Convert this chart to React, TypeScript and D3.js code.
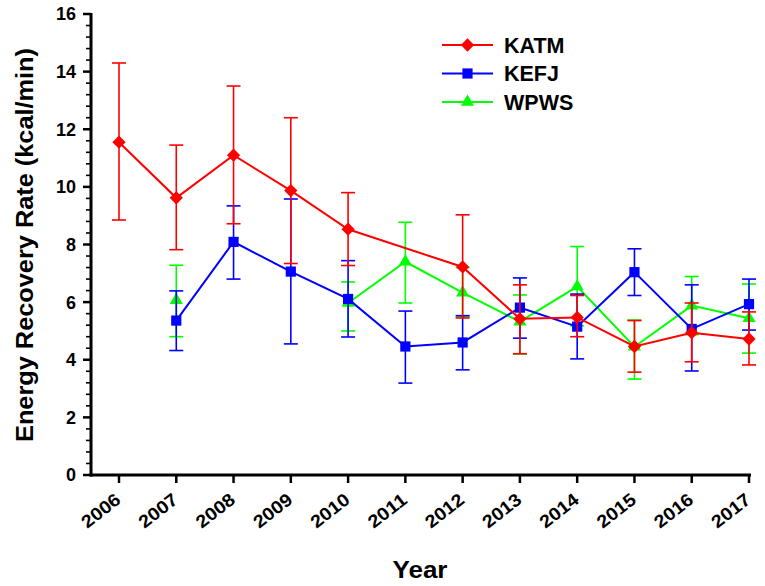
import React, { useEffect, useRef } from 'react';
import * as d3 from 'd3';

const years = [2006, 2007, 2008, 2009, 2010, 2011, 2012, 2013, 2014, 2015, 2016, 2017];

// mean, lower and upper error values per year (null = no data)
const katmMean = [11.55, 9.62, 11.1, 9.87, 8.53, null, 7.22, 5.42, 5.47, 4.46, 4.94, 4.72];
const katmLow = [8.85, 7.82, 8.72, 7.34, 7.27, null, 5.45, 4.21, 4.8, 3.57, 3.93, 3.82];
const katmHigh = [14.3, 11.45, 13.5, 12.4, 9.8, null, 9.03, 6.6, 6.23, 5.36, 5.97, 5.66];

const kefjMean = [null, 5.36, 8.09, 7.06, 6.11, 4.46, 4.6, 5.81, 5.15, 7.04, 5.07, 5.93];
const kefjLow = [null, 4.32, 6.8, 4.55, 4.79, 3.19, 3.65, 4.75, 4.03, 6.23, 3.61, 5.03];
const kefjHigh = [null, 6.39, 9.34, 9.58, 7.44, 5.69, 5.53, 6.84, 6.28, 7.85, 6.6, 6.8];

const wpwsMean = [null, 6.07, null, null, 5.97, 7.4, 6.33, 5.32, 6.54, 4.45, 5.88, 5.44];
const wpwsLow = [null, 4.8, null, null, 5.0, 5.97, 5.5, 4.2, 5.18, 3.33, 4.87, 4.23];
const wpwsHigh = [null, 7.28, null, null, 6.7, 8.77, 7.2, 6.25, 7.93, 5.38, 6.89, 6.63];

const yTicks = [0, 2, 4, 6, 8, 10, 12, 14, 16];

type Series = {
  name: string; color: string; symbol: d3.SymbolType; size: number; rotate: number; connect: boolean;
  mean: (number | null)[]; low: (number | null)[]; high: (number | null)[];
};

const series: Series[] = [
  { name: 'KATM', color: '#ff0000', symbol: d3.symbolSquare, size: 88, rotate: 45, connect: true, mean: katmMean, low: katmLow, high: katmHigh },
  { name: 'KEFJ', color: '#0000ff', symbol: d3.symbolSquare, size: 104, rotate: 0, connect: true, mean: kefjMean, low: kefjLow, high: kefjHigh },
  { name: 'WPWS', color: '#00ff00', symbol: d3.symbolTriangle, size: 75, rotate: 0, connect: false, mean: wpwsMean, low: wpwsLow, high: wpwsHigh },
];

const App = () => {
  const svgRef = useRef<SVGSVGElement>(null);

  useEffect(() => {
    const width = 765;
    const height = 586;
    const svg = d3.select(svgRef.current);
    svg.selectAll('*').remove();
    svg.attr('width', width).attr('height', height);

    const font = '"Liberation Sans", Arial, sans-serif';
    const left = 91, right = 751, top = 14, bottom = 475;

    const x = d3.scalePoint<number>().domain(years).range([119, 749]);
    const y = d3.scaleLinear().domain([0, 16]).range([bottom, top]);

    // draw order: green, blue, red on top
    [...series].reverse().forEach((s) => {
      const g = svg.append('g');
      const pts = years.map((yr, i) => ({ yr, m: s.mean[i], lo: s.low[i], hi: s.high[i] }));
      const valid = pts.filter((d) => d.m !== null);
      const line = d3.line<any>()
        .defined((d) => d.m !== null)
        .x((d) => x(d.yr)!)
        .y((d) => y(d.m));
      g.append('path')
        .attr('d', line(s.connect ? valid : pts))
        .attr('fill', 'none')
        .attr('stroke', s.color)
        .attr('stroke-width', 2);

      valid.forEach((d) => {
        const cx = x(d.yr)!;
        g.append('line').attr('x1', cx).attr('x2', cx).attr('y1', y(d.lo!)).attr('y2', y(d.hi!))
          .attr('stroke', s.color).attr('stroke-width', 1.6);
        [d.lo!, d.hi!].forEach((v) => {
          g.append('line').attr('x1', cx - 7).attr('x2', cx + 7).attr('y1', y(v)).attr('y2', y(v))
            .attr('stroke', s.color).attr('stroke-width', 1.6);
        });
      });
      g.selectAll('.pt').data(valid).join('path')
        .attr('d', d3.symbol().type(s.symbol).size(s.size)())
        .attr('transform', (d) => `translate(${x(d.yr)},${y(d.m!)}) rotate(${s.rotate})`)
        .attr('fill', s.color);
    });

    // axes
    const ax = svg.append('g');
    ax.append('line').attr('x1', left).attr('x2', left).attr('y1', top - 1).attr('y2', bottom + 1.5)
      .attr('stroke', '#000').attr('stroke-width', 3);
    ax.append('line').attr('x1', left - 1.5).attr('x2', right).attr('y1', bottom).attr('y2', bottom)
      .attr('stroke', '#000').attr('stroke-width', 3);

    d3.range(0, 16.01, 0.4).forEach((v) => {
      const major = Math.abs(v / 2 - Math.round(v / 2)) < 1e-6;
      ax.append('line').attr('x1', left - (major ? 8 : 5)).attr('x2', left)
        .attr('y1', y(v)).attr('y2', y(v)).attr('stroke', '#000').attr('stroke-width', major ? 2.5 : 1.6);
    });
    yTicks.forEach((v) => {
      ax.append('text').attr('x', 76).attr('y', y(v)).attr('dy', '0.36em')
        .attr('text-anchor', 'end').attr('font-family', font).attr('font-weight', 'bold')
        .attr('font-size', 18).text(v);
    });

    years.forEach((yr) => {
      const cx = x(yr)!;
      ax.append('line').attr('x1', cx).attr('x2', cx).attr('y1', bottom).attr('y2', bottom + 8)
        .attr('stroke', '#000').attr('stroke-width', 2.5);
      ax.append('text')
        .attr('transform', `translate(${cx + 3},${bottom + 27}) rotate(-38)`)
        .attr('text-anchor', 'end').attr('font-family', font).attr('font-weight', 'bold')
        .attr('font-size', 18).attr('textLength', 44).attr('lengthAdjust', 'spacingAndGlyphs')
        .text(yr);
    });

    svg.append('text')
      .attr('transform', `translate(33,245) rotate(-90)`)
      .attr('text-anchor', 'middle').attr('font-family', font).attr('font-weight', 'bold')
      .attr('font-size', 24).attr('textLength', 394).attr('lengthAdjust', 'spacingAndGlyphs')
      .text('Energy Recovery Rate (kcal/min)');
    svg.append('text')
      .attr('x', 420).attr('y', 578)
      .attr('text-anchor', 'middle').attr('font-family', font).attr('font-weight', 'bold')
      .attr('font-size', 23).attr('textLength', 55).attr('lengthAdjust', 'spacingAndGlyphs')
      .text('Year');

    // legend
    series.forEach((s, i) => {
      const ly = 45 + i * 28.5;
      const lg = svg.append('g');
      lg.append('line').attr('x1', 442).attr('x2', 493).attr('y1', ly).attr('y2', ly)
        .attr('stroke', s.color).attr('stroke-width', 2);
      lg.append('path').attr('d', d3.symbol().type(s.symbol).size(s.size)())
        .attr('transform', `translate(467.5,${ly}) rotate(${s.rotate})`).attr('fill', s.color);
      lg.append('text').attr('x', 504).attr('y', ly).attr('dy', '0.36em')
        .attr('font-family', font).attr('font-weight', 'bold').attr('font-size', 21.5).text(s.name);
    });
  }, []);

  return (
    <svg ref={svgRef} style={{ position: 'absolute', left: 0, top: 0 }} />
  );
};

export default App;
